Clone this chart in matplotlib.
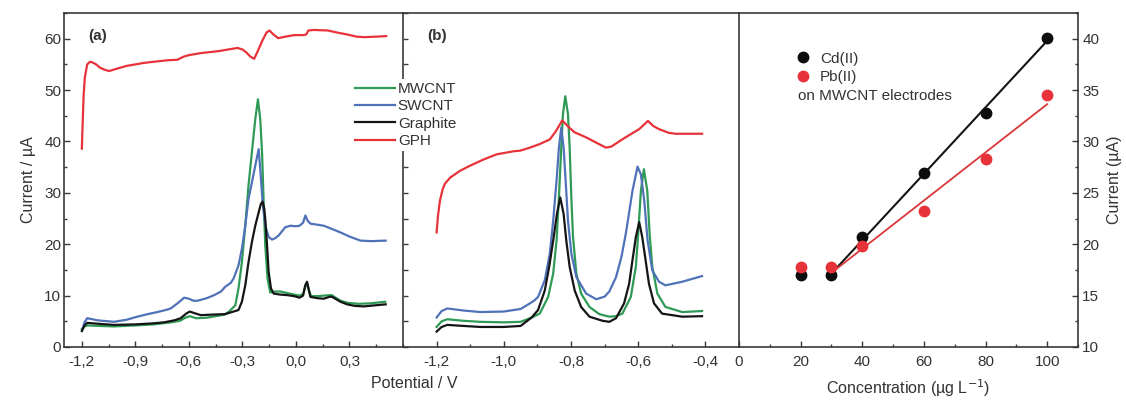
import matplotlib
matplotlib.use("Agg")
import matplotlib.pyplot as plt
from matplotlib.lines import Line2D
from matplotlib.ticker import MultipleLocator, FixedLocator
import numpy as np

plt.rcParams['font.family'] = ['Liberation Sans', 'DejaVu Sans']

# ---------------- data ----------------
# Panel (a)  (potential in V, current in uA)
a_gph_x = [-1.2, -1.195, -1.19, -1.183, -1.17, -1.155, -1.142, -1.12, -1.10, -1.075, -1.048, -1.0, -0.95, -0.90,
           -0.85, -0.80, -0.72, -0.665, -0.63, -0.60, -0.533, -0.48, -0.43, -0.38, -0.327, -0.30, -0.280,
           -0.255, -0.234, -0.215, -0.19, -0.165, -0.149, -0.125, -0.10, -0.06, -0.009, 0.04, 0.057, 0.07,
           0.10, 0.178, 0.23, 0.290, 0.34, 0.384, 0.45, 0.506]
a_gph_y = [38.6, 44.0, 49.0, 52.5, 55.0, 55.5, 55.4, 55.0, 54.4, 54.0, 53.7, 54.2, 54.7, 55.0,
           55.3, 55.5, 55.8, 55.9, 56.5, 56.8, 57.2, 57.4, 57.6, 57.9, 58.2, 57.9, 57.4,
           56.5, 56.1, 57.5, 59.5, 61.2, 61.6, 60.8, 60.1, 60.4, 60.7, 60.7, 60.8, 61.6,
           61.7, 61.6, 61.2, 60.8, 60.4, 60.3, 60.4, 60.5]

a_mw_x = [-1.2, -1.185, -1.17, -1.10, -1.02, -0.90, -0.80, -0.70, -0.65, -0.62, -0.595, -0.56, -0.50, -0.45,
          -0.40, -0.378, -0.34, -0.322, -0.303, -0.284, -0.266, -0.247, -0.228, -0.213, -0.2, -0.19,
          -0.181, -0.172, -0.159, -0.144, -0.116, -0.088, -0.05, -0.01, 0.02, 0.04, 0.055, 0.062, 0.072,
          0.085, 0.12, 0.156, 0.20, 0.25, 0.29, 0.35, 0.42, 0.50]
a_mw_y = [3.5, 4.0, 4.2, 4.1, 4.0, 4.2, 4.4, 4.8, 5.1, 5.7, 6.0, 5.6, 5.7, 6.0,
          6.3, 6.8, 8.1, 11.4, 16.5, 23.6, 31.4, 37.9, 44.3, 48.2, 44.3, 37.9,
          28.2, 19.8, 13.3, 10.6, 10.8, 10.8, 10.5, 10.2, 10.0, 10.3, 12.0, 12.4, 11.0,
          9.9, 9.9, 10.0, 10.1, 9.0, 8.6, 8.4, 8.5, 8.8]

a_gr_x = [-1.2, -1.185, -1.17, -1.10, -1.02, -0.90, -0.80, -0.739, -0.68, -0.646, -0.615, -0.595, -0.57,
          -0.533, -0.47, -0.397, -0.34, -0.322, -0.303, -0.284, -0.266, -0.247, -0.228, -0.209, -0.197,
          -0.187, -0.178, -0.172, -0.162, -0.153, -0.14, -0.125, -0.088, -0.05, -0.01, 0.02, 0.04, 0.052,
          0.062, 0.072, 0.081, 0.12, 0.156, 0.19, 0.203, 0.25, 0.287, 0.33, 0.381, 0.44, 0.503]
a_gr_y = [3.1, 4.2, 4.7, 4.5, 4.3, 4.4, 4.6, 4.8, 5.2, 5.6, 6.5, 6.9, 6.6,
          6.2, 6.3, 6.4, 7.0, 7.2, 8.8, 12.0, 16.5, 20.4, 23.6, 26.2, 27.8,
          28.3, 27.0, 24.9, 19.8, 14.6, 11.4, 10.4, 10.2, 10.1, 9.9, 9.6, 10.0, 12.0,
          12.7, 11.2, 9.75, 9.5, 9.4, 9.8, 9.75, 8.8, 8.3, 8.0, 7.9, 8.1, 8.3]

a_sw_x = [-1.198, -1.185, -1.17, -1.14, -1.114, -1.02, -0.95, -0.889, -0.83, -0.777, -0.73, -0.702, -0.66,
          -0.627, -0.60, -0.575, -0.552, -0.50, -0.458, -0.42, -0.397, -0.365, -0.35, -0.322, -0.303,
          -0.284, -0.266, -0.247, -0.228, -0.209, -0.2, -0.187, -0.172, -0.153, -0.134, -0.115, -0.097,
          -0.06, -0.031, 0.0, 0.02, 0.04, 0.053, 0.065, 0.081, 0.12, 0.156, 0.2, 0.249, 0.30, 0.362,
          0.42, 0.503]
a_sw_y = [3.3, 4.8, 5.6, 5.4, 5.2, 4.9, 5.3, 5.9, 6.4, 6.8, 7.2, 7.5, 8.6,
          9.6, 9.4, 9.0, 9.0, 9.5, 10.1, 10.8, 11.7, 12.5, 13.3, 15.9, 19.1,
          23.6, 28.8, 32.0, 35.3, 38.5, 34.6, 28.2, 23.6, 21.4, 20.9, 21.2, 21.7,
          23.3, 23.6, 23.5, 23.6, 24.2, 25.6, 24.6, 24.0, 23.8, 23.6, 23.0, 22.3, 21.5, 20.7,
          20.6, 20.7]

# Panel (b)
b_gph_x = [-1.2, -1.196, -1.19, -1.182, -1.175, -1.159, -1.13, -1.1, -1.06, -1.021, -0.97, -0.952, -0.922,
           -0.893, -0.863, -0.845, -0.826, -0.81, -0.79, -0.755, -0.72, -0.696, -0.68, -0.65, -0.62, -0.597,
           -0.571, -0.555, -0.538, -0.51, -0.489, -0.45, -0.41]
b_gph_y = [22.3, 25.5, 28.5, 30.7, 31.8, 33.0, 34.3, 35.3, 36.5, 37.5, 38.1, 38.2, 38.8,
           39.5, 40.4, 42.0, 44.1, 43.0, 41.8, 40.8, 39.6, 38.8, 39.0, 40.3, 41.5, 42.4,
           44.0, 43.0, 42.4, 41.7, 41.5, 41.5, 41.5]

b_mw_x = [-1.2, -1.185, -1.168, -1.12, -1.07, -1.0, -0.95, -0.922, -0.893, -0.868, -0.853, -0.843, -0.836,
          -0.829, -0.824, -0.817, -0.809, -0.804, -0.799, -0.794, -0.784, -0.77, -0.745, -0.716, -0.686,
          -0.666, -0.647, -0.622, -0.607, -0.6, -0.592, -0.583, -0.573, -0.566, -0.558, -0.543, -0.519,
          -0.469, -0.41]
b_mw_y = [3.9, 5.0, 5.4, 5.1, 4.9, 4.8, 4.9, 5.6, 6.5, 9.75, 14.3, 20.7, 29.1,
          38.8, 45.3, 48.8, 45.3, 38.8, 29.1, 21.4, 14.3, 10.4, 7.8, 6.4, 5.9,
          6.0, 6.5, 9.75, 15.6, 22.0, 30.4, 34.6, 30.4, 22.0, 15.6, 10.4, 7.8,
          6.8, 7.0]

b_sw_x = [-1.2, -1.185, -1.168, -1.12, -1.07, -1.0, -0.95, -0.932, -0.91, -0.898, -0.878, -0.863, -0.853,
          -0.843, -0.836, -0.829, -0.822, -0.816, -0.809, -0.799, -0.784, -0.755, -0.725, -0.70, -0.686,
          -0.666, -0.65, -0.637, -0.617, -0.602, -0.592, -0.582, -0.572, -0.558, -0.538, -0.519, -0.469,
          -0.41]
b_sw_y = [5.75, 7.0, 7.5, 7.1, 6.8, 6.9, 7.4, 8.1, 9.0, 9.75, 13.0, 18.2, 24.6,
          32.4, 38.8, 42.7, 38.8, 32.4, 24.6, 18.2, 13.6, 10.4, 9.3, 9.8, 10.8,
          13.6, 17.5, 22.0, 30.4, 35.1, 33.6, 28.5, 20.7, 14.9, 12.7, 12.0, 12.7,
          13.8]

b_gr_x = [-1.2, -1.185, -1.168, -1.12, -1.07, -1.0, -0.95, -0.917, -0.898, -0.878, -0.865, -0.853, -0.842,
          -0.832, -0.822, -0.814, -0.804, -0.789, -0.77, -0.745, -0.706, -0.686, -0.666, -0.642, -0.627,
          -0.617, -0.607, -0.597, -0.588, -0.578, -0.568, -0.553, -0.529, -0.469, -0.41]
b_gr_y = [3.0, 3.9, 4.3, 4.1, 3.9, 3.9, 4.1, 5.75, 7.2, 11.0, 15.6, 20.7, 25.9,
          29.1, 25.9, 20.7, 15.6, 11.0, 7.8, 5.9, 5.1, 4.9, 5.6, 8.5, 12.3,
          16.9, 21.4, 24.3, 21.4, 16.9, 12.3, 8.5, 6.5, 5.9, 6.0]

# Panel (c)
conc = [20, 30, 40, 60, 80, 100]
cd_current = [17.0, 17.0, 20.7, 26.9, 32.8, 40.1]
pb_current = [17.8, 17.8, 19.8, 23.2, 28.3, 34.5]

a_xticks = [-1.2, -0.9, -0.6, -0.3, 0.0, 0.3]
a_xlabels = ['-1,2', '-0,9', '-0,6', '-0,3', '0,0', '0,3']
b_xticks = [-1.2, -1.0, -0.8, -0.6, -0.4]
b_xlabels = ['-1,2', '-1,0', '-0,8', '-0,6', '-0,4']

series_names = ['MWCNT', 'SWCNT', 'Graphite', 'GPH']
series_colors = ['#2f9a55', '#4f72b8', '#151515', '#e8323a']

# ---------------- figure ----------------
fig = plt.figure(figsize=(11.26, 4.01), dpi=100)
W, H = 1126, 401
def rect(x0, x1, y0=13, y1=347):
    return [x0 / W, 1 - y1 / H, (x1 - x0) / W, (y1 - y0) / H]

axA = fig.add_axes(rect(64, 403))
axB = fig.add_axes(rect(403, 739))
axC = fig.add_axes(rect(739, 1078))

spine_col = '#3a3a3a'
txt_col = '#333333'
lw = 1.6
fs_tick = 11
fs_lab = 11.5

for ax in (axA, axB, axC):
    for s in ax.spines.values():
        s.set_color(spine_col)
        s.set_linewidth(1.2)
    ax.tick_params(which='both', direction='in', colors=spine_col, labelcolor=txt_col, labelsize=fs_tick)
    ax.tick_params(which='major', length=4.5, width=1)
    ax.tick_params(which='minor', length=2.5, width=1)

# Panel (a)
for (x, y), c in zip([(a_mw_x, a_mw_y), (a_sw_x, a_sw_y), (a_gr_x, a_gr_y), (a_gph_x, a_gph_y)], series_colors):
    axA.plot(x, y, color=c, lw=lw, solid_joinstyle='round')
axA.set_xlim(-1.3, 0.6)
axA.set_ylim(0, 65)
axA.xaxis.set_major_locator(FixedLocator(a_xticks))
axA.set_xticklabels(a_xlabels)
axA.xaxis.set_minor_locator(MultipleLocator(0.15))
axA.yaxis.set_major_locator(MultipleLocator(10))
axA.yaxis.set_minor_locator(MultipleLocator(5))
axA.spines['right'].set_visible(False)
axA.tick_params(axis='x', pad=6)
axA.tick_params(axis='y', pad=2)
axA.set_ylabel('Current / \u00b5A', fontsize=fs_lab, color=txt_col, labelpad=6)
axA.text(0.1, 0.93, '(a)', transform=axA.transAxes, fontsize=11, fontweight='bold', color=txt_col,
         ha='center', va='center')

# Panel (b)
for (x, y), c in zip([(b_mw_x, b_mw_y), (b_sw_x, b_sw_y), (b_gr_x, b_gr_y), (b_gph_x, b_gph_y)], series_colors):
    axB.plot(x, y, color=c, lw=lw, solid_joinstyle='round')
axB.set_xlim(-1.3, -0.3)
axB.set_ylim(0, 65)
axB.xaxis.set_major_locator(FixedLocator(b_xticks))
axB.set_xticklabels(b_xlabels)
axB.xaxis.set_minor_locator(MultipleLocator(0.1))
axB.yaxis.set_major_locator(MultipleLocator(5))
axB.tick_params(axis='y', labelleft=False, which='both', length=3.5)
axB.tick_params(axis='x', pad=6)
axB.spines['right'].set_visible(False)
axB.text(0.1, 0.93, '(b)', transform=axB.transAxes, fontsize=11, fontweight='bold', color=txt_col,
         ha='center', va='center')

# Panel (c)
cd_fit = np.polyfit(conc[1:], cd_current[1:], 1)
pb_fit = np.polyfit(conc[1:], pb_current[1:], 1)
xf = np.array([conc[1], conc[-1]])
axC.plot(xf, np.polyval(cd_fit, xf), color='#151515', lw=1.5, zorder=2)
axC.plot(xf, np.polyval(pb_fit, xf), color='#d9373a', lw=1.3, zorder=2)
axC.plot(conc, cd_current, 'o', color='#0d0d0d', ms=7.5, zorder=3)
axC.plot(conc, pb_current, 'o', color='#e8323a', ms=7.5, zorder=3)
axC.set_xlim(0, 110)
axC.set_ylim(10, 42.5)
axC.xaxis.set_major_locator(MultipleLocator(20))
axC.xaxis.set_minor_locator(MultipleLocator(10))
axC.yaxis.set_major_locator(MultipleLocator(5))
axC.yaxis.set_minor_locator(MultipleLocator(2.5))
axC.yaxis.tick_right()
axC.yaxis.set_label_position('right')
axC.tick_params(axis='y', which='both', left=False, right=True, pad=3)
axC.tick_params(axis='x', pad=6)
axC.set_ylabel('Current (\u00b5A)', fontsize=fs_lab, color=txt_col, labelpad=6)
axC.set_xlabel('Concentration (\u00b5g L$^{-1}$)', fontsize=fs_lab, color=txt_col, labelpad=6)
leg_c = axC.legend(handles=[Line2D([], [], ls='', marker='o', color='#0d0d0d', ms=7.5, label='Cd(II)'),
                            Line2D([], [], ls='', marker='o', color='#e8323a', ms=7.5, label='Pb(II)')],
                   loc='upper left', bbox_to_anchor=(0.126, 0.925), frameon=False, fontsize=fs_tick,
                   handlelength=1.0, handletextpad=0.6, labelspacing=0.3, labelcolor=txt_col)
axC.text(0.175, 0.752, 'on MWCNT electrodes', transform=axC.transAxes, fontsize=fs_tick, color=txt_col,
         ha='left', va='center')

# shared x label for (a)+(b)
fig.text(414 / W, 1 - 384 / H, 'Potential / V', fontsize=fs_lab, color=txt_col, ha='center', va='center')

# legend for (a)/(b)
handles = [Line2D([], [], color=c, lw=lw, label=n) for n, c in zip(series_names, series_colors)]
fig.legend(handles=handles, loc='upper left', bbox_to_anchor=(352 / W, 1 - 79 / H), fontsize=fs_tick,
           frameon=True, facecolor='white', edgecolor='none', framealpha=1, handlelength=2.6,
           handletextpad=0.2, labelspacing=0.22, borderpad=0.2, borderaxespad=0, labelcolor=txt_col)

fig.savefig('out.png', dpi=100)
